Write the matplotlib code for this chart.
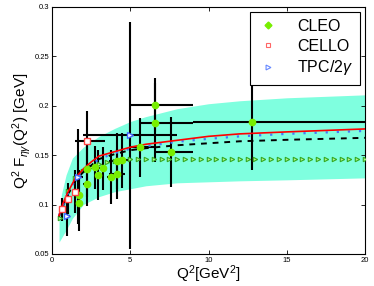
import matplotlib
matplotlib.use("Agg")
import matplotlib.pyplot as plt
from matplotlib.lines import Line2D

plt.rcParams["font.family"] = ["Liberation Sans", "DejaVu Sans"]
plt.rcParams["mathtext.fontset"] = "custom"
plt.rcParams["mathtext.rm"] = "Liberation Sans"
plt.rcParams["mathtext.it"] = "Liberation Sans:italic"

# ---- band (theory uncertainty)
band_x = [0.45, 0.6, 0.9, 1.3, 2.0, 3.0, 4.0, 5.0, 6.0, 8.0, 10.0, 12.0, 15.0, 20.0]
band_hi = [0.090, 0.110, 0.130, 0.147, 0.158, 0.169, 0.177, 0.184, 0.189, 0.197, 0.202, 0.205, 0.208, 0.211]
band_lo = [0.062, 0.066, 0.074, 0.086, 0.100, 0.108, 0.113, 0.116, 0.119, 0.122, 0.123, 0.124, 0.125, 0.127]

# ---- theory curves
red_x = [0.45, 0.7, 1.0, 1.5, 2.0, 2.5, 3.0, 4.0, 5.0, 6.0, 8.0, 10.0, 12.0, 15.0, 20.0]
red_y = [0.089, 0.101, 0.112, 0.127, 0.136, 0.143, 0.149, 0.1535, 0.158, 0.161, 0.165, 0.169, 0.1715, 0.1735, 0.1765]

blue_x = [0.45, 1.0, 1.5, 2.0, 3.0, 4.0, 5.0, 6.0, 8.0, 10.0, 12.0, 15.0, 20.0]
blue_y = [0.089, 0.111, 0.125, 0.134, 0.146, 0.152, 0.1565, 0.159, 0.1635, 0.1665, 0.169, 0.1715, 0.1745]

dash_x = [0.45, 1.0, 1.5, 2.0, 3.0, 4.0, 5.0, 6.0, 8.0, 10.0, 12.0, 15.0, 20.0]
dash_y = [0.088, 0.110, 0.124, 0.133, 0.146, 0.151, 0.155, 0.157, 0.160, 0.162, 0.164, 0.1655, 0.1675]

tri_x = [0.5, 1.0, 1.5, 2.0, 2.5, 3.0, 3.5, 4.0, 4.5, 5.0, 5.5, 6.0, 6.5, 7.0, 7.5, 8.0,
         8.5, 9.0, 9.5, 10.0, 10.5, 11.0, 11.5, 12.0, 12.5, 13.0, 13.5, 14.0, 14.5, 15.0,
         15.5, 16.0, 16.5, 17.0, 17.5, 18.0, 18.5, 19.0, 19.5, 20.0]
tri_y = [0.086, 0.114, 0.127, 0.134, 0.138, 0.141, 0.143, 0.144, 0.145, 0.146, 0.146, 0.146,
         0.146, 0.146, 0.146, 0.146, 0.146, 0.146, 0.146, 0.146, 0.146, 0.146, 0.146, 0.146,
         0.146, 0.146, 0.146, 0.146, 0.146, 0.146, 0.146, 0.146, 0.146, 0.146, 0.146, 0.146,
         0.146, 0.146, 0.146, 0.146]

# ---- CLEO
cleo_x = [1.75, 1.75, 2.26, 2.26, 2.77, 2.96, 3.28, 3.75, 4.17, 4.17, 4.50, 5.65, 6.58, 6.58, 7.58, 12.75]
cleo_y = [0.1095, 0.1015, 0.1205, 0.1355, 0.1375, 0.1300, 0.1365, 0.1280, 0.1310, 0.1442,
          0.1448, 0.1580, 0.2008, 0.1830, 0.1532, 0.1840]
cleo_xlo = [0.25, 0.25, 0.25, 0.25, 0.25, 0.25, 0.25, 0.25, 0.5, 0.5, 0.5, 0.65, 1.55, 0.91, 1.0, 3.75]
cleo_xhi = [0.25, 0.25, 0.25, 0.25, 0.25, 0.25, 0.25, 0.25, 0.5, 0.5, 0.5, 0.85, 2.42, 2.42, 1.42, 7.25]
cleo_yerr = [0.025, 0.028, 0.022, 0.028, 0.022, 0.025, 0.022, 0.027, 0.025, 0.028, 0.028,
             0.030, 0.027, 0.040, 0.035, 0.049]

# ---- CELLO
cello_x = [0.62, 1.04, 1.47, 2.26]
cello_y = [0.095, 0.106, 0.113, 0.1644]
cello_xlo = [0.12, 0.20, 0.22, 0.79]
cello_xhi = [0.12, 0.20, 0.25, 1.13]
cello_yerr = [0.012, 0.016, 0.022, 0.030]

# ---- TPC/2gamma
tpc_x = [0.94, 1.68, 5.0]
tpc_y = [0.0885, 0.128, 0.170]
tpc_xerr = [0.2, 0.3, 3.0]
tpc_yerr = [0.020, 0.048, 0.115]

GREEN = "#77ee00"
CYAN = "#7fffdf"

fig = plt.figure(figsize=(3.74, 2.86), dpi=100)
ax = fig.add_axes([0.139, 0.112, 0.837, 0.864])

ax.fill_between(band_x, band_lo, band_hi, color=CYAN, lw=0, zorder=1)

ebkw = dict(fmt="none", ecolor="black", elinewidth=1.5, capsize=0, zorder=2)
ax.errorbar(cleo_x, cleo_y, xerr=[cleo_xlo, cleo_xhi], yerr=cleo_yerr, **ebkw)
ax.errorbar(cello_x, cello_y, xerr=[cello_xlo, cello_xhi], yerr=cello_yerr, **ebkw)
ax.errorbar(tpc_x, tpc_y, xerr=tpc_xerr, yerr=tpc_yerr, **ebkw)

ax.plot(tri_x, tri_y, ls="none", marker=">", ms=3.2, mfc="#bbee88", mec="#33aa22", mew=0.8, zorder=3)
ax.plot(dash_x, dash_y, color="black", ls=(0, (3, 3)), lw=1.4, zorder=3)
ax.plot(blue_x, blue_y, color="#4477ff", ls=(0, (1, 4)), lw=1.6, zorder=3)
ax.plot(red_x, red_y, color="red", lw=1.2, zorder=4)

ax.plot(cleo_x, cleo_y, ls="none", marker="o", ms=4.5, mfc=GREEN, mec=GREEN, zorder=5)
ax.plot(cello_x, cello_y, ls="none", marker="s", ms=4.2, mfc="white", mec="#ff4444", mew=1, zorder=5)
ax.plot(tpc_x, tpc_y, ls="none", marker=">", ms=5, mfc="white", mec="#4466ff", mew=1, zorder=5)

ax.set_xlim(0, 20)
ax.set_ylim(0.05, 0.3)
ax.set_xticks([0, 5, 10, 15, 20])
ax.set_yticks([0.05, 0.1, 0.15, 0.2, 0.25, 0.3])
ax.set_yticklabels(["0.05", "0.1", "0.15", "0.2", "0.25", "0.3"])
ax.tick_params(direction="in", top=True, right=True, labelsize=5.5, length=3, width=0.6, pad=2)
for s in ax.spines.values():
    s.set_linewidth(0.8)

ax.set_xlabel(r"Q$^2$[GeV$^2$]", fontsize=11, labelpad=0)
ax.set_ylabel(r"Q$^2$ F$_{\eta\gamma}$(Q$^2$) [GeV]", fontsize=11, labelpad=1)

handles = [
    Line2D([], [], ls="none", marker="D", ms=3.5, mfc=GREEN, mec=GREEN),
    Line2D([], [], ls="none", marker="s", ms=3.5, mfc="white", mec="#ff6666", mew=0.8),
    Line2D([], [], ls="none", marker=">", ms=3.5, mfc="white", mec="#6688ff", mew=0.8),
]
leg = ax.legend(handles, ["CLEO", "CELLO", "TPC/2$\\gamma$"], loc="upper right", fontsize=11.5,
                frameon=True, fancybox=False, framealpha=1, edgecolor="black",
                handlelength=1.4, handletextpad=1.1, borderpad=0.45, labelspacing=0.3,
                borderaxespad=0.3)
leg.get_frame().set_linewidth(0.8)
leg.set_zorder(10)

fig.savefig("out.png", dpi=100)
